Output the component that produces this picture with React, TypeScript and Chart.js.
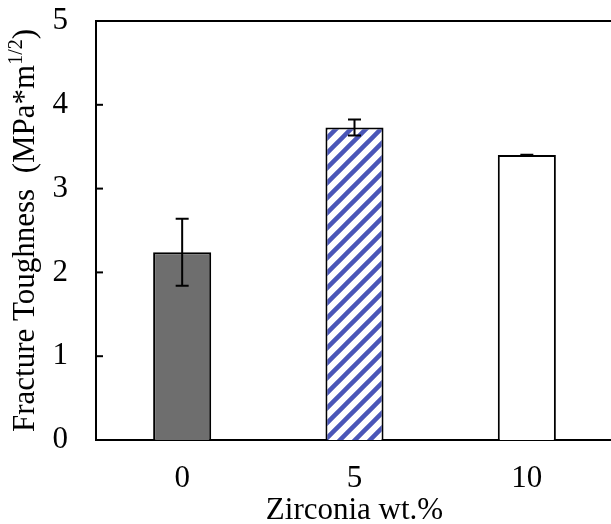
import React, { useEffect, useRef } from "react";
import { Chart, registerables } from "chart.js";

Chart.register(...registerables);

const categories = ["0", "5", "10"];
const toughness = [2.24, 3.73, 3.4];
const errors = [0.4, 0.095, 0.005];
const yMin = 0;
const yMax = 5;
const xTitle = "Zirconia wt.%";
const yTitleMain = "Fracture Toughness  (MPa*m";
const yTitleSup = "1/2";
const yTitleEnd = ")";

const FONT = "'Liberation Serif', 'Times New Roman', serif";
const W = 614;
const H = 524;

function makeHatch(): CanvasPattern | string {
  const s = 15;
  const c = document.createElement("canvas");
  c.width = s;
  c.height = s;
  const g = c.getContext("2d");
  if (!g) return "#4a56b8";
  g.fillStyle = "#ffffff";
  g.fillRect(0, 0, s, s);
  g.strokeStyle = "#4a56b8";
  g.lineWidth = 4.5;
  g.beginPath();
  g.moveTo(-s, s);
  g.lineTo(s, -s);
  g.moveTo(0, s * 2);
  g.lineTo(s * 2, 0);
  g.moveTo(0, s);
  g.lineTo(s, 0);
  g.stroke();
  return g.createPattern(c, "repeat") || "#4a56b8";
}

const framePlugin = {
  id: "frame",
  afterDatasetsDraw(chart: any) {
    const ctx = chart.ctx as CanvasRenderingContext2D;
    const y = chart.scales.y;
    const meta = chart.getDatasetMeta(0);
    ctx.save();
    ctx.strokeStyle = "#000";
    ctx.lineWidth = 2;
    meta.data.forEach((bar: any, i: number) => {
      const x = bar.x;
      const t = y.getPixelForValue(toughness[i] + errors[i]);
      const b = y.getPixelForValue(toughness[i] - errors[i]);
      ctx.beginPath();
      ctx.moveTo(x, t);
      ctx.lineTo(x, b);
      ctx.moveTo(x - 6.5, t);
      ctx.lineTo(x + 6.5, t);
      ctx.moveTo(x - 6.5, b);
      ctx.lineTo(x + 6.5, b);
      ctx.stroke();
    });
    ctx.restore();
  },
  afterDraw(chart: any) {
    const ctx = chart.ctx as CanvasRenderingContext2D;
    const area = chart.chartArea;
    const y = chart.scales.y;
    ctx.save();
    ctx.strokeStyle = "#000";
    ctx.lineWidth = 2;
    // top frame line
    ctx.beginPath();
    ctx.moveTo(area.left - 1, area.top);
    ctx.lineTo(chart.width, area.top);
    ctx.stroke();
    // inside tick marks
    y.ticks.forEach((tk: any) => {
      const py = y.getPixelForValue(tk.value);
      ctx.beginPath();
      ctx.moveTo(area.left, py);
      ctx.lineTo(area.left + 7, py);
      ctx.stroke();
    });
    // y title with superscript
    const cy = (area.top + area.bottom) / 2;
    const mainFont = `31px ${FONT}`;
    const supFont = `20px ${FONT}`;
    ctx.font = mainFont;
    const w1 = ctx.measureText(yTitleMain).width;
    const w3 = ctx.measureText(yTitleEnd).width;
    ctx.font = supFont;
    const w2 = ctx.measureText(yTitleSup).width;
    const total = w1 + w2 + w3;
    ctx.translate(34, cy);
    ctx.rotate(-Math.PI / 2);
    ctx.fillStyle = "#000";
    ctx.textBaseline = "alphabetic";
    ctx.textAlign = "left";
    let x0 = -total / 2;
    ctx.font = mainFont;
    ctx.fillText(yTitleMain, x0, 0);
    x0 += w1;
    ctx.font = supFont;
    ctx.fillText(yTitleSup, x0, -12);
    x0 += w2;
    ctx.font = mainFont;
    ctx.fillText(yTitleEnd, x0, 0);
    ctx.restore();
  },
};

export default function App() {
  const ref = useRef<HTMLCanvasElement | null>(null);
  useEffect(() => {
    if (!ref.current) return;
    const hatch = makeHatch();
    const chart = new Chart(ref.current, {
      type: "bar",
      data: {
        labels: categories,
        datasets: [
          {
            data: toughness,
            backgroundColor: ["#6e6e6e", hatch as any, "#ffffff"],
            borderColor: "#000000",
            borderWidth: 2,
            categoryPercentage: 1,
            barPercentage: 0.337,
          },
        ],
      },
      options: {
        responsive: false,
        animation: false,
        devicePixelRatio: 1,
        layout: { padding: { top: 21, right: 1, left: 0, bottom: 0 } },
        plugins: {
          legend: { display: false },
          tooltip: { enabled: false },
        },
        scales: {
          x: {
            grid: { display: false, drawTicks: false },
            border: { display: true, color: "#000", width: 2 },
            ticks: {
              color: "#000",
              padding: 20,
              font: { family: FONT, size: 31 },
            },
            title: {
              display: true,
              text: xTitle,
              color: "#000",
              padding: { top: 0, bottom: -5 },
              font: { family: FONT, size: 31 },
            },
            afterFit(scale: any) {
              scale.height = 84;
              scale.paddingLeft = 0;
              scale.paddingRight = 0;
            },
          },
          y: {
            min: yMin,
            max: yMax,
            grid: { display: false, drawTicks: false },
            border: { display: true, color: "#000", width: 2 },
            ticks: {
              stepSize: 1,
              color: "#000",
              padding: 28,
              font: { family: FONT, size: 31 },
            },
            afterFit(scale: any) {
              scale.width = 96;
              scale.paddingTop = 0;
              scale.paddingBottom = 0;
            },
          },
        },
      },
      plugins: [framePlugin],
    });
    return () => chart.destroy();
  }, []);
  return (
    <div
      style={{
        position: "fixed",
        left: 0,
        top: 0,
        width: 611,
        height: 524,
        overflow: "hidden",
        background: "#fff",
      }}
    >
      <canvas ref={ref} width={W} height={H} style={{ display: "block", width: W, height: H }} />
    </div>
  );
}
